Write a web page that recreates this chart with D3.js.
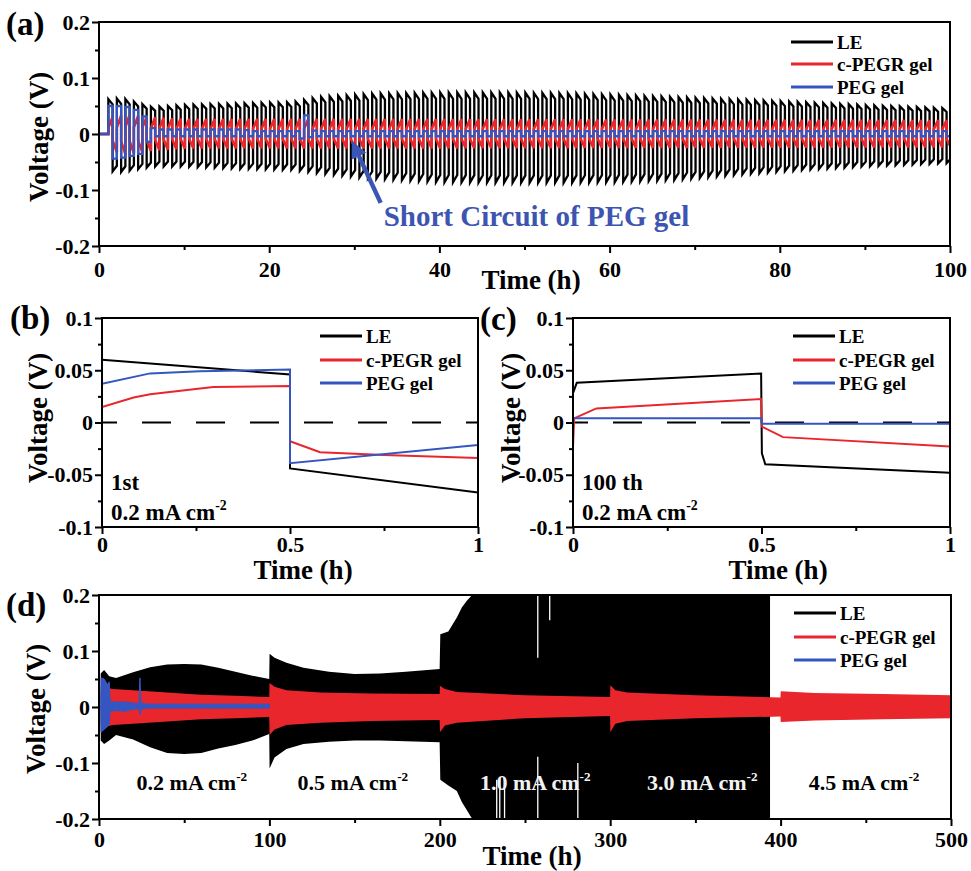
<!DOCTYPE html>
<html lang="en">
<head>
<meta charset="UTF-8">
<title>Voltage profiles</title>
<script src="https://d3js.org/d3.v7.min.js"></script>
<style>
  body { margin: 0; background: #fff; }
  svg { font-family: "Liberation Serif", "Times New Roman", serif; font-weight: bold; }
</style>
</head>
<body>
<svg id="chart" width="971" height="871"></svg>
<script>
// ---------- data ----------
const seriesNames = ["LE", "c-PEGR gel", "PEG gel"];

// (a) cycling 0.5 h charge / 0.5 h discharge, envelopes of the peak voltages
const cycleStartA = 1.1;
const cycleLength = 1;
const leTimeA = [1.1, 3, 6.5, 10, 17, 23, 26, 32, 40, 48, 55, 61, 68, 75, 83, 90, 100];
const leTopA  = [0.062, 0.064, 0.048, 0.052, 0.055, 0.057, 0.066, 0.072, 0.074, 0.074, 0.073, 0.070, 0.066, 0.062, 0.057, 0.052, 0.046];
const leBotA  = [-0.066, -0.068, -0.058, -0.058, -0.062, -0.064, -0.070, -0.079, -0.086, -0.087, -0.087, -0.086, -0.082, -0.073, -0.064, -0.058, -0.052];
const redTimeA = [1.1, 3, 6, 10, 30, 60, 100];
const redTopA  = [0.030, 0.035, 0.030, 0.027, 0.027, 0.026, 0.025];
const redBotA  = [-0.030, -0.037, -0.030, -0.026, -0.026, -0.025, -0.024];
const pegTimeA = [1.1, 3, 5, 5.8, 6.5, 7, 17, 18, 23.6, 24.1, 24.7, 25.5, 100];
const pegTopA  = [0.050, 0.050, 0.040, 0.020, 0.008, 0.008, 0.008, 0.005, 0.005, 0.050, 0.010, 0.005, 0.005];
const pegBotA  = [-0.045, -0.042, -0.035, -0.015, -0.004, -0.004, -0.004, -0.004, -0.004, -0.012, -0.006, -0.004, -0.004];
const shortCircuit = { text: "Short Circuit of PEG gel", tipT: 29.7, tipV: -0.012, tailT: 33.1, tailV: -0.123 };

// (b) 1st cycle
const leTimeB  = [0, 0.5, 0.5, 1];
const leVoltB  = [0.060, 0.046, -0.044, -0.067];
const redTimeB = [0, 0.084, 0.128, 0.296, 0.5, 0.5, 0.58, 0.75, 1, 1];
const redVoltB = [0.0147, 0.024, 0.027, 0.034, 0.035, -0.018, -0.0285, -0.031, -0.034, -0.023];
const pegTimeB = [0, 0, 0.128, 0.26, 0.5, 0.5, 1, 1];
const pegVoltB = [-0.052, 0.037, 0.047, 0.049, 0.0506, -0.039, -0.0215, 0.022];

// (c) 100th cycle
const leTimeC  = [0, 0.01, 0.499, 0.501, 0.51, 1];
const leVoltC  = [0.028, 0.038, 0.0468, -0.0295, -0.040, -0.048];
const redTimeC = [0, 0.003, 0.062, 0.499, 0.501, 0.557, 1, 1];
const redVoltC = [-0.023, 0.004, 0.0135, 0.0224, -0.004, -0.014, -0.023, 0];
const pegTimeC = [0, 0.499, 0.501, 1, 1];
const pegVoltC = [0.004, 0.004, -0.0013, -0.0013, 0.004];

// (d) long-term cycling, voltage envelopes
const leTimeD = [1, 3, 6, 10, 20, 30, 40, 50, 60, 70, 80, 90, 99.9, 100.1, 103, 110, 120, 135, 150, 165, 180, 199.9, 200.3, 205, 210, 213, 216, 219, 222, 393.8];
const leTopD  = [0.060, 0.066, 0.055, 0.052, 0.062, 0.071, 0.076, 0.077, 0.076, 0.070, 0.063, 0.056, 0.050, 0.095, 0.088, 0.079, 0.070, 0.063, 0.059, 0.060, 0.063, 0.068, 0.130, 0.135, 0.160, 0.178, 0.190, 0.200, 0.220, 0.220];
const leBotD  = [-0.060, -0.066, -0.060, -0.050, -0.058, -0.072, -0.082, -0.084, -0.082, -0.074, -0.068, -0.060, -0.048, -0.110, -0.090, -0.075, -0.066, -0.062, -0.060, -0.060, -0.061, -0.063, -0.130, -0.140, -0.150, -0.170, -0.185, -0.200, -0.220, -0.220];
const leGapTimeD = [233.4, 235.2, 238, 257.5, 257.5, 264.5, 281];
const leGapFromD = [-0.130, -0.130, -0.130, 0.200, -0.089, 0.200, -0.100];
const leGapToD   = [-0.200, -0.200, -0.200, 0.088, -0.200, 0.155, -0.200];
const redTimeD = [1, 3, 8, 20, 40, 60, 80, 99.9, 100.1, 103, 110, 130, 160, 199.9, 200.1, 203, 210, 250, 299.9, 300.1, 303, 310, 350, 399.9, 400.1, 420, 460, 500];
const redTopD  = [0.030, 0.036, 0.032, 0.030, 0.026, 0.022, 0.020, 0.018, 0.043, 0.036, 0.030, 0.026, 0.024, 0.023, 0.038, 0.032, 0.027, 0.021, 0.018, 0.039, 0.030, 0.026, 0.021, 0.017, 0.028, 0.025, 0.023, 0.021];
const redBotD  = [-0.030, -0.036, -0.032, -0.030, -0.026, -0.022, -0.020, -0.018, -0.050, -0.040, -0.032, -0.028, -0.025, -0.023, -0.045, -0.033, -0.028, -0.020, -0.016, -0.045, -0.030, -0.025, -0.020, -0.017, -0.027, -0.024, -0.022, -0.020];
const pegTimeD = [0, 1, 1.2, 3, 5, 6, 6.5, 7, 10, 15, 20, 23.5, 24, 24.6, 26, 30, 60, 100];
const pegTopD  = [0, 0, 0.052, 0.050, 0.040, 0.045, 0.012, 0.009, 0.009, 0.009, 0.007, 0.006, 0.052, 0.010, 0.006, 0.005, 0.005, 0.005];
const pegBotD  = [0, 0, -0.045, -0.040, -0.035, -0.030, -0.010, -0.008, -0.006, -0.008, -0.004, -0.003, -0.014, -0.006, -0.003, -0.002, -0.002, -0.002];
const currentLabelsD = ["0.2", "0.5", "1.0", "3.0", "4.5"];
const currentAtD = [54.5, 149, 256, 354, 449];

// ---------- drawing ----------
const svg = d3.select("#chart");
const colors = ["#000000", "#e8262c", "#3556c0"];
const fmt = d => d === 0 ? "0" : String(d);

function makePanel(cfg) {
  const x = d3.scaleLinear().domain(cfg.xDomain).range([cfg.left, cfg.right]);
  const y = d3.scaleLinear().domain(cfg.yDomain).range([cfg.bottom, cfg.top]);
  const g = svg.append("g");
  g.append("clipPath").attr("id", "clip-" + cfg.id).append("rect")
    .attr("x", cfg.left).attr("y", cfg.top)
    .attr("width", cfg.right - cfg.left).attr("height", cfg.bottom - cfg.top);
  const plot = g.append("g").attr("clip-path", `url(#clip-${cfg.id})`);
  return { cfg, g, plot, x, y };
}

function styleAxis(a, size) {
  a.attr("font-family", null).attr("font-size", null);
  a.select(".domain").remove();
  a.selectAll(".tick line").attr("stroke", "#000").attr("stroke-width", 2);
  a.selectAll("text").attr("font-size", size).attr("fill", "#000");
}

function drawAxes(p) {
  const c = p.cfg;
  const xb = p.g.append("g").attr("transform", `translate(0,${c.bottom})`);
  xb.append("g").call(d3.axisBottom(p.x).tickValues(c.xMinor).tickSize(4).tickFormat("")).call(styleAxis, 20);
  xb.append("g").call(d3.axisBottom(p.x).tickValues(c.xTicks).tickSize(7).tickPadding(c.xPad).tickFormat(fmt)).call(styleAxis, c.tickFont);
  const yl = p.g.append("g").attr("transform", `translate(${c.left},0)`);
  yl.append("g").call(d3.axisLeft(p.y).tickValues(c.yMinor).tickSize(4).tickFormat("")).call(styleAxis, 20);
  yl.append("g").call(d3.axisLeft(p.y).tickValues(c.yTicks).tickSize(7).tickPadding(2).tickFormat(fmt)).call(styleAxis, c.tickFont);

  p.g.append("rect").attr("x", c.left).attr("y", c.top)
    .attr("width", c.right - c.left).attr("height", c.bottom - c.top)
    .attr("fill", "none").attr("stroke", "#000").attr("stroke-width", 2);

  p.g.append("text").attr("x", c.xTitle[0]).attr("y", c.xTitle[1])
    .attr("text-anchor", "middle").attr("font-size", 27).text("Time (h)");
  p.g.append("text").attr("transform", `translate(${c.yTitle[0]},${c.yTitle[1]}) rotate(-90)`)
    .attr("text-anchor", "middle").attr("dy", "0.35em").attr("font-size", 27).text("Voltage (V)");
  p.g.append("text").attr("x", c.letter[0]).attr("y", c.letter[1])
    .attr("font-size", 33).text(c.label);
}

function drawLegend(p, lx, ys, size) {
  seriesNames.forEach((name, i) => {
    p.g.append("line").attr("x1", lx).attr("x2", lx + 42).attr("y1", ys[i]).attr("y2", ys[i])
      .attr("stroke", colors[i]).attr("stroke-width", 2.8);
    p.g.append("text").attr("x", lx + 46).attr("y", ys[i]).attr("dy", "0.35em")
      .attr("font-size", size).text(name);
  });
}

function currentText(sel, x, y, value, size, fill, anchor) {
  const t = sel.append("text").attr("x", x).attr("y", y).attr("font-size", size)
    .attr("fill", fill).attr("text-anchor", anchor);
  t.append("tspan").text(value + " mA cm");
  t.append("tspan").attr("font-size", size * 0.6).attr("dy", -size * 0.42).text("-2");
}

function cycleWave(envTime, envTop, envBot, shape, start, end) {
  const top = d3.scaleLinear().domain(envTime).range(envTop).clamp(true);
  const bot = d3.scaleLinear().domain(envTime).range(envBot).clamp(true);
  const pts = [[0, 0], [start, 0]];
  const half = cycleLength / 2;
  for (let t = start; t < end; t += cycleLength) {
    const a = top(t + half / 2), b = bot(t + 1.5 * half);
    pts.push([t, a * shape[0]], [t + half, a * shape[1]], [t + half, b * shape[0]], [t + cycleLength, b * shape[1]]);
  }
  return pts;
}

// ----- panel (a) -----
const pa = makePanel({
  id: "a", left: 99, right: 950, top: 22, bottom: 246,
  xDomain: [0, 100], yDomain: [-0.2, 0.2],
  xTicks: d3.range(0, 101, 20), xMinor: d3.range(10, 100, 20), xPad: 8, tickFont: 22,
  yTicks: [-0.2, -0.1, 0, 0.1, 0.2], yMinor: [-0.15, -0.05, 0.05, 0.15],
  xTitle: [531, 289], yTitle: [39, 137], letter: [6, 35], label: "(a)"
});
const lineA = d3.line().x(d => pa.x(d[0])).y(d => pa.y(d[1]));
const wavesA = [
  cycleWave(leTimeA, leTopA, leBotA, [1, 0.85], cycleStartA, 100),
  cycleWave(redTimeA, redTopA, redBotA, [0.35, 1], cycleStartA, 100),
  cycleWave(pegTimeA, pegTopA, pegBotA, [1, 1], cycleStartA, 100)
];
const widthsA = [2.3, 2.6, 2.3];
wavesA.forEach((w, i) => {
  pa.plot.append("path").datum(w).attr("d", lineA).attr("fill", "none")
    .attr("stroke", colors[i]).attr("stroke-width", widthsA[i]).attr("stroke-linejoin", "miter");
});
drawAxes(pa);
drawLegend(pa, 791, [42, 64, 87], 19);

// annotation arrow
{
  const x1 = pa.x(shortCircuit.tailT), y1 = pa.y(shortCircuit.tailV);
  const x2 = pa.x(shortCircuit.tipT), y2 = pa.y(shortCircuit.tipV);
  const ang = Math.atan2(y2 - y1, x2 - x1);
  const hl = 17, hw = 8;
  const bx = x2 - hl * Math.cos(ang), by = y2 - hl * Math.sin(ang);
  pa.g.append("line").attr("x1", x1).attr("y1", y1).attr("x2", bx).attr("y2", by)
    .attr("stroke", "#3a56b4").attr("stroke-width", 4.5);
  pa.g.append("path")
    .attr("d", `M${x2},${y2} L${bx + hw * Math.sin(ang)},${by - hw * Math.cos(ang)} L${bx - hw * Math.sin(ang)},${by + hw * Math.cos(ang)} Z`)
    .attr("fill", "#3a56b4");
  pa.g.append("text").attr("x", x1 + 3).attr("y", 226).attr("font-size", 29)
    .attr("fill", "#3d55b0").text(shortCircuit.text);
}

// ----- panels (b) and (c) -----
function smallPanel(cfg, data, legendX, cycleText) {
  const p = makePanel(Object.assign({
    top: 318, bottom: 527, xDomain: [0, 1], yDomain: [-0.1, 0.1],
    xTicks: [0, 0.5, 1], xMinor: [0.25, 0.75], xPad: 2, tickFont: 22,
    yTicks: [-0.1, -0.05, 0, 0.05, 0.1], yMinor: [-0.075, -0.025, 0.025, 0.075]
  }, cfg));
  p.plot.append("line").attr("x1", p.x(0)).attr("x2", p.x(1)).attr("y1", p.y(0)).attr("y2", p.y(0))
    .attr("stroke", "#000").attr("stroke-width", 2.2)
    .attr("stroke-dasharray", "29 25").attr("stroke-dashoffset", 14);
  const line = d3.line().x(d => p.x(d[0])).y(d => p.y(d[1]));
  data.forEach((d, i) => {
    p.plot.append("path").datum(d3.zip(d[0], d[1])).attr("d", line).attr("fill", "none")
      .attr("stroke", colors[i]).attr("stroke-width", 2);
  });
  drawAxes(p);
  drawLegend(p, legendX, [336, 360, 383], 19);
  p.g.append("text").attr("x", cfg.left + 9).attr("y", 490).attr("font-size", 23).text(cycleText);
  currentText(p.g, cfg.left + 9, 520, "0.2", 23, "#000", "start");
  return p;
}

smallPanel({ id: "b", left: 102, right: 478, xTitle: [303, 579], yTitle: [38, 418], letter: [10, 329], label: "(b)" },
  [[leTimeB, leVoltB], [redTimeB, redVoltB], [pegTimeB, pegVoltB]], 320, "1st");
smallPanel({ id: "c", left: 573, right: 950, xTitle: [778, 579], yTitle: [511, 418], letter: [480, 330], label: "(c)" },
  [[leTimeC, leVoltC], [redTimeC, redVoltC], [pegTimeC, pegVoltC]], 793, "100 th");

// ----- panel (d) -----
const pd = makePanel({
  id: "d", left: 99, right: 951, top: 595, bottom: 819,
  xDomain: [0, 500], yDomain: [-0.2, 0.2],
  xTicks: d3.range(0, 501, 100), xMinor: d3.range(50, 500, 100), xPad: 5, tickFont: 22,
  yTicks: [-0.2, -0.1, 0, 0.1, 0.2], yMinor: [-0.15, -0.05, 0.05, 0.15],
  xTitle: [532, 865], yTitle: [36, 709], letter: [6, 616], label: "(d)"
});
const areaD = d3.area().x(d => pd.x(d[0])).y0(d => pd.y(d[2])).y1(d => pd.y(d[1]));
pd.plot.append("path").datum(d3.zip(leTimeD, leTopD, leBotD)).attr("d", areaD).attr("fill", colors[0]);
d3.zip(leGapTimeD, leGapFromD, leGapToD).forEach(d => {
  pd.plot.append("line").attr("x1", pd.x(d[0])).attr("x2", pd.x(d[0]))
    .attr("y1", pd.y(d[1])).attr("y2", pd.y(d[2])).attr("stroke", "#fff").attr("stroke-width", 1.3);
});
pd.plot.append("path").datum(d3.zip(redTimeD, redTopD, redBotD)).attr("d", areaD).attr("fill", colors[1]);
pd.plot.append("path").datum(d3.zip(pegTimeD, pegTopD, pegBotD)).attr("d", areaD)
  .attr("fill", colors[2]).attr("stroke", colors[2]).attr("stroke-width", 1);
currentLabelsD.forEach((v, i) => {
  const onBlack = v === "1.0" || v === "3.0";
  currentText(pd.g, pd.x(currentAtD[i]), pd.y(-0.148), v, 22, onBlack ? "#f2f2f2" : "#000", "middle");
});
drawAxes(pd);
drawLegend(pd, 794, [613, 637, 660], 19);
</script>
</body>
</html>
